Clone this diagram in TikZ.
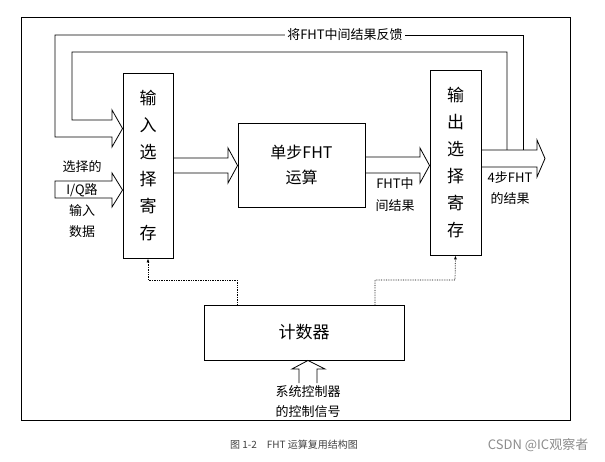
\documentclass[tikz,border=0pt]{standalone}
\usepackage{fontspec}
\setmainfont{Liberation Serif}
\newfontfamily\cjk{Noto Sans CJK SC}
\usetikzlibrary{arrows.meta}
\begin{document}
\begin{tikzpicture}[x=1pt,y=-1pt,line width=0.8pt,
  box/.style={draw,line width=0.9pt,inner sep=0pt},
  lbl/.style={font=\cjk\fontsize{13}{14}\selectfont,inner sep=0pt,align=center},
  big/.style={font=\cjk\fontsize{17}{27}\selectfont,inner sep=0pt,align=center},
  ctl/.style={densely dotted,line width=0.7pt,-{Latex[length=4pt,width=3pt]}}]
\useasboundingbox (0,0) rectangle (605,462);
\draw[line width=0.9pt] (21,17) rectangle (570,420);
% boxes
\node[box,minimum width=50pt,minimum height=185pt] (in) at (148,165.5) {};
\node[big] at (in.center) {输\\入\\选\\择\\寄\\存};
\node[box,minimum width=127pt,minimum height=84pt] (step) at (301.5,165) {};
\node[big,font=\cjk\fontsize{16}{25}\selectfont] at (step.center) {单步FHT\\运算};
\node[box,minimum width=51pt,minimum height=185pt] (out) at (455.5,162.5) {};
\node[big] at (out.center) {输\\出\\选\\择\\寄\\存};
\node[box,minimum width=200pt,minimum height=55pt] (cnt) at (304,332.5) {};
\node[big] at (cnt.center) {计数器};
% input data arrow
\draw (55,181) -- (112,181) -- (112,173) -- (in.west |- 0,190) -- (112,207) -- (112,198) -- (55,198) -- cycle;
\node[lbl] at (82,167) {选择的};
\node[lbl] at (82,190) {I/Q路};
\node[lbl] at (82,211) {输入};
\node[lbl] at (82,232) {数据};
% in -> step
\draw (in.east |- 0,158) -- (228,158) -- (228,148) -- (step.west |- 0,165.5) -- (228,183) -- (228,173) -- (in.east |- 0,173);
% step -> out
\draw (step.east |- 0,157) -- (420,157) -- (420,148) -- (out.west |- 0,165.5) -- (420,183) -- (420,173) -- (step.east |- 0,173);
\node[lbl] at (395,184) {FHT中};
\node[lbl] at (395,206) {间结果};
% output arrow
\draw (out.east |- 0,150) -- (537,150) -- (537,140) -- (545,158.5) -- (537,177) -- (537,167) -- (out.east |- 0,167);
\node[lbl] at (510,178) {4步FHT};
\node[lbl] at (510,199) {的结果};
% feedback
\node[lbl,fill=white,inner sep=2pt] (fb) at (345,35) {将FHT中间结果反馈};
\draw (523,150) -- (523,35) -- (fb.east);
\draw (fb.west) -- (55,35) -- (55,137) -- (112,137) -- (112,147) -- (in.west |- 0,128.5) -- (112,110) -- (112,120) -- (72,120) -- (72,52) -- (507,52) -- (507,150);
% control
\draw[ctl] (cnt.north -| 237,0) |- (148,280) -- (in.south);
\draw[ctl] (cnt.north -| 375,0) |- (455,280) -- (out.south);
\draw (299,383) -- (299,369) -- (292,369) -- (cnt.south -| 308,0) -- (325,369) -- (317,369) -- (317,383);
\node[lbl] at (308,392) {系统控制器};
\node[lbl] at (308,412) {的控制信号};
% caption
\node[font=\cjk\fontsize{10}{12}\selectfont,text=black!75] at (294,445) {图 1-2\quad FHT 运算复用结构图};
\node[font=\cjk\fontsize{13}{15}\selectfont,text=black!45,anchor=east] at (592,445) {CSDN @IC观察者};
\end{tikzpicture}
\end{document}
